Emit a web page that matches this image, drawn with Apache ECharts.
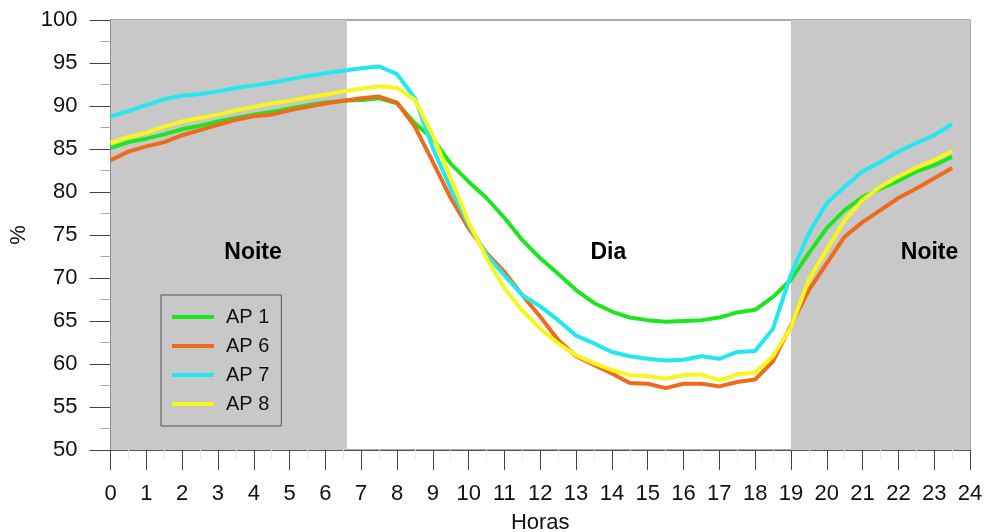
<!DOCTYPE html>
<html>
<head>
<meta charset="utf-8">
<script src="https://cdn.jsdelivr.net/npm/echarts@6/dist/echarts.min.js"></script>
<style>html,body{margin:0;padding:0;background:#fff}#c{width:990px;height:532px}</style>
</head>
<body>
<div id="c"></div>
<script>
// Hours (half-hour resolution)
const hours = [0,0.5,1,1.5,2,2.5,3,3.5,4,4.5,5,5.5,6,6.5,7,7.5,8,8.5,9,9.5,10,10.5,11,11.5,12,12.5,13,13.5,14,14.5,15,15.5,16,16.5,17,17.5,18,18.5,19,19.5,20,20.5,21,21.5,22,22.5,23,23.5];
const ap1 = [85.1,85.8,86.2,86.7,87.3,87.7,88.2,88.6,89.0,89.3,89.7,90.1,90.4,90.6,90.7,90.9,90.3,88.0,86.2,83.3,81.2,79.3,77.0,74.4,72.3,70.5,68.6,67.1,66.1,65.4,65.1,64.9,65.0,65.1,65.4,66.0,66.3,67.8,69.8,72.9,75.8,77.9,79.4,80.4,81.3,82.4,83.1,84.1];
const ap6 = [83.7,84.7,85.3,85.8,86.6,87.2,87.8,88.4,88.8,89.0,89.5,89.9,90.3,90.6,90.9,91.1,90.4,87.6,83.5,79.3,75.8,72.9,70.7,68.0,65.5,62.8,60.9,59.9,58.9,57.8,57.7,57.2,57.7,57.7,57.4,57.9,58.2,60.3,64.5,68.6,71.7,74.8,76.5,77.9,79.3,80.4,81.6,82.8];
const ap7 = [88.8,89.4,90.1,90.8,91.2,91.4,91.7,92.1,92.4,92.7,93.1,93.5,93.8,94.1,94.4,94.6,93.7,90.9,85.1,80.4,76.2,72.7,70.3,68.0,66.7,65.1,63.3,62.4,61.4,60.9,60.6,60.4,60.5,60.9,60.6,61.4,61.5,64.1,70.4,75.2,78.7,80.6,82.4,83.5,84.7,85.7,86.6,87.9];
const ap8 = [85.7,86.4,86.9,87.6,88.2,88.6,89.0,89.5,89.9,90.3,90.6,91.0,91.3,91.7,92.0,92.3,92.1,90.7,86.6,81.6,76.5,72.3,68.8,66.2,64.1,62.4,61.0,60.1,59.3,58.7,58.6,58.3,58.7,58.8,58.1,58.8,59.0,60.9,64.3,69.8,73.3,76.7,79.1,80.6,81.8,82.8,83.7,84.8];
const seriesNames = ['AP 1','AP 6','AP 7','AP 8'];
const seriesColors = ['#1ee61e','#f06a1c','#22e8f0','#f7f71c'];
// Night periods (hours)
const nightBands = [[0,6.6],[19,24]];
// Period labels [hour, value, text]
const periodLabels = [[3.98,73,'Noite'],[13.9,73,'Dia'],[22.87,73,'Noite']];
const xTicks = {min:0,max:24,interval:1};
const yTicks = {min:50,max:100,interval:5};

const allData = [ap1,ap6,ap7,ap8];
const font = 'Liberation Sans, Arial, sans-serif';

const lineSeries = seriesNames.map((n,i)=>({
  name:n, type:'line', showSymbol:false, symbol:'none',
  data: hours.map((h,j)=>[h,allData[i][j]]),
  lineStyle:{width:4,color:seriesColors[i]},
  itemStyle:{color:seriesColors[i]},
  z:5
}));

const chart = echarts.init(document.getElementById('c'),null,{renderer:'canvas'});
chart.setOption({
  animation:false,
  backgroundColor:'#fff',
  grid:{left:110.5,right:20,top:20,bottom:82,outerBoundsMode:'none',containLabel:false,show:true,borderColor:'#555',borderWidth:1,backgroundColor:'transparent'},
  legend:{
    data:seriesNames, orient:'vertical', left:161, top:295,
    padding:[12,12,12,11], itemGap:9, itemWidth:42, itemHeight:4, icon:'rect',
    backgroundColor:'#c8c8c8', borderColor:'#555', borderWidth:1,
    textStyle:{fontFamily:font,fontSize:20,color:'#111',lineHeight:20,padding:[0,0,0,7]}
  },
  xAxis:{
    type:'value', min:xTicks.min, max:xTicks.max, interval:xTicks.interval,
    name:'Horas', nameLocation:'middle', nameGap:62,
    nameTextStyle:{fontFamily:font,fontSize:22,color:'#111'},
    axisLine:{show:true,lineStyle:{color:'#555',width:1}},
    axisTick:{show:true,length:20,lineStyle:{color:'#444',width:1}},
    minorTick:{show:true,splitNumber:2,length:10,lineStyle:{color:'#ececec',width:1}},
    splitLine:{show:false},
    axisLabel:{fontFamily:font,fontSize:22,color:'#111',margin:33}
  },
  yAxis:{
    type:'value', min:yTicks.min, max:yTicks.max, interval:yTicks.interval,
    name:'%', nameLocation:'middle', nameGap:80, nameRotate:90,
    nameTextStyle:{fontFamily:font,fontSize:22,color:'#111'},
    axisLine:{show:true,lineStyle:{color:'#555',width:1}},
    axisTick:{show:true,length:21,lineStyle:{color:'#444',width:1}},
    minorTick:{show:true,splitNumber:2,length:10,lineStyle:{color:'#aaa',width:1}},
    splitLine:{show:false},
    axisLabel:{fontFamily:font,fontSize:22,color:'#111',margin:33}
  },
  series:[
    {
      name:'bands', type:'line', data:[], silent:true, z:1,
      markArea:{silent:true,itemStyle:{color:'#c8c8c8'},
        data: nightBands.map(b=>[{xAxis:b[0],yAxis:yTicks.min},{xAxis:b[1],yAxis:yTicks.max}])}
    },
    ...lineSeries,
    {
      name:'labels', type:'scatter', symbolSize:0, silent:true, z:6,
      itemStyle:{opacity:1},
      data: periodLabels.map(p=>({value:[p[0],p[1]],name:p[2]})),
      label:{show:true,position:'inside',formatter:p=>p.name,fontFamily:font,fontSize:23,fontWeight:'bold',color:'#000',opacity:1}
    }
  ]
});
</script>
</body>
</html>
